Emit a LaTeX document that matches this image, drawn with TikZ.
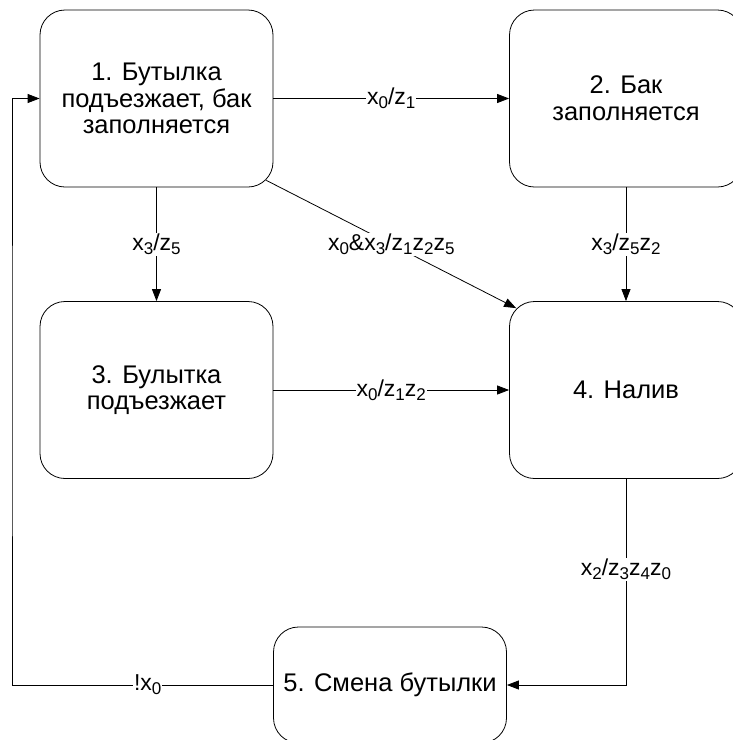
\documentclass[tikz,border=0pt]{standalone}
\usepackage{fontspec}
\setmainfont{Liberation Sans}
\usetikzlibrary{arrows.meta,calc,positioning}
\newcommand{\lo}[1]{\raisebox{-3.8pt}{\fontsize{17}{18}\selectfont#1}}

\begin{document}
\begin{tikzpicture}[x=1pt,y=-1pt,>={Triangle[length=12pt,width=9pt]}]
    \tikzstyle{state} = [shape=rectangle, draw=black, line width=0.8pt, rounded corners=25pt, minimum width=233pt, minimum height=177pt, align=center, inner sep=0, font=\fontsize{25.5}{26.7}\selectfont]
    \tikzstyle{trans} = [->, black, line width=0.8pt]
    \tikzstyle{lbl} = [fill=white, inner sep=1pt, font=\fontsize{23}{24}\selectfont]
    \useasboundingbox (0,0) rectangle (732,740);

    \node[state] (s1) at (156.5,98.5) {1. Бутылка\\подъезжает, бак\\заполняется};
    \node[state] (s2) at (626,98.5) {2. Бак\\заполняется};
    \node[state] (s3) at (156.5,390) {3. Булытка\\подъезжает};
    \node[state] (s4) at (626,390) {4. Налив};
    \node[state, minimum height=116pt] (s5) at (390,685) {5. Смена бутылки};
    \coordinate (back) at (12,390);

    \draw[trans] (s1) -- node[lbl]{x\lo{0}/z\lo{1}} (s2);
    \draw[trans] (s1) -- node[lbl]{x\lo{3}/z\lo{5}} (s3);
    \draw[trans] ($(s1.south east)+(-7,-7)$) -- node[lbl]{x\lo{0}\&x\lo{3}/z\lo{1}z\lo{2}z\lo{5}} ($(s4.north west)+(7,7)$);
    \draw[trans] (s2) -- node[lbl]{x\lo{3}/z\lo{5}z\lo{2}} (s4);
    \draw[trans] (s3) -- node[lbl]{x\lo{0}/z\lo{1}z\lo{2}} (s4);
    \draw[trans] (s4.south) |- node[lbl,pos=0.22]{x\lo{2}/z\lo{3}z\lo{4}z\lo{0}} (s5.east);
    \draw[trans] (s5.west) -| node[lbl,pos=0.24]{!x\lo{0}} (back) |- (s1.west);
\end{tikzpicture}
\end{document}
